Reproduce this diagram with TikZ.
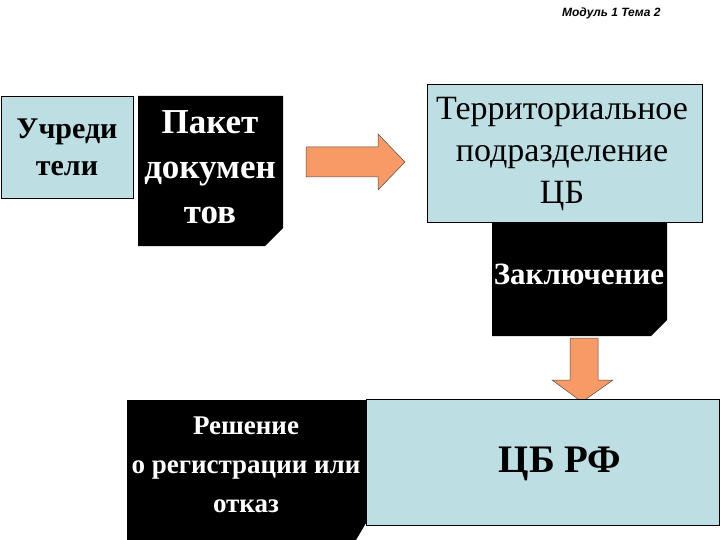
\documentclass[tikz,border=0pt]{standalone}
\usepackage{fontspec}
\setmainfont{Liberation Serif}
\newfontfamily\hdr{Liberation Sans}
\definecolor{lb}{HTML}{BDDEE2}
\definecolor{orng}{HTML}{F79A66}
\begin{document}
\begin{tikzpicture}[x=1pt,y=-1pt,
  lbox/.style={draw=black,fill=lb,line width=0.8pt},
  blk/.style={fill=black},
  wt/.style={text=white,font=\bfseries\fontsize{31}{38}\selectfont,align=center},
  bt/.style={text=black,align=center},
  arr/.style={draw=black!70,fill=orng,line width=0.5pt}]
\useasboundingbox (0,0) rectangle (720,540);
% boxes
\path[lbox] (1,96) rectangle (133,198);
\node[bt,font=\bfseries\fontsize{30}{37}\selectfont] (u) at (67,147) {Учреди\\тели};
\path[blk] (138,96) -- (283,96) -- (283,228) -- (265,246) -- (138,246) -- cycle;
\node[wt,font=\bfseries\fontsize{35}{45}\selectfont] (p) at (210,167) {Пакет\\докумен\\тов};
\path[arr] (306,147) -- (378,147) -- (378,134) -- (405,162) -- (378,190) -- (378,177) -- (306,177) -- cycle;
\path[blk] (492,222) -- (667,222) -- (667,320) -- (651,336) -- (492,336) -- cycle;
\node[wt] (z) at (579,274) {Заключение};
\path[lbox] (427,84) rectangle (702,222);
\node[bt,font=\fontsize{34}{42}\selectfont] (t) at (562,154) {Территориальное\\подразделение\\ЦБ};
\path[arr] (570,338) -- (598,338) -- (598,380) -- (613,380) -- (582,402) -- (552,380) -- (570,380) -- cycle;
\path[blk] (127,400) -- (366,400) -- (366,523) -- (356,540) -- (127,540) -- cycle;
\node[wt,font=\bfseries\fontsize{27}{39}\selectfont] (r) at (246,465) {Решение\\о регистрации или\\отказ};
\path[lbox] (366,399) rectangle (719,525);
\node[bt,font=\bfseries\fontsize{39}{40}\selectfont] (c) at (560,464) {ЦБ РФ};
\node[font=\hdr\bfseries\itshape\fontsize{12}{14}\selectfont,anchor=east] (h) at (664,13) {Модуль 1 Тема 2};
\end{tikzpicture}
\end{document}
